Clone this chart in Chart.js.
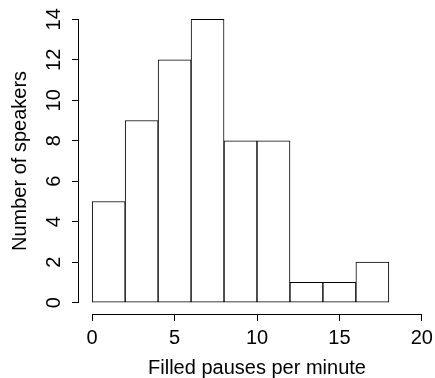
<!DOCTYPE html>
<html>
<head>
<meta charset="utf-8">
<script src="https://cdn.jsdelivr.net/npm/chart.js@4"></script>
<style>
  html, body { margin: 0; padding: 0; background: #fff; }
  #wrap { width: 435px; height: 378px; }
</style>
</head>
<body>
<div id="wrap"><canvas id="hist"></canvas></div>
<script>
// histogram bins (filled pauses per minute) and speaker counts
const binEdges = [0, 2, 4, 6, 8, 10, 12, 14, 16, 18];
const counts = [5, 9, 12, 14, 8, 8, 1, 1, 2];
const xTicks = [0, 5, 10, 15, 20];
const yTicks = [0, 2, 4, 6, 8, 10, 12, 14];

const FONT = { family: '"Liberation Sans", Arial, Helvetica, sans-serif', size: 20 };

const points = counts.map((c, i) => ({ x: (binEdges[i] + binEdges[i + 1]) / 2, y: c }));

// R-style axis: a line spanning only first..last tick
const axisLines = {
    id: 'axisLines',
    afterDraw(chart) {
        const ctx = chart.ctx;
        const xs = chart.scales.x, ys = chart.scales.y;
        ctx.save();
        ctx.strokeStyle = '#000';
        ctx.lineWidth = 1;
        ctx.beginPath();
        const yb = Math.round(xs.top) + 0.5;
        ctx.moveTo(xs.getPixelForValue(xTicks[0]), yb);
        ctx.lineTo(xs.getPixelForValue(xTicks[xTicks.length - 1]), yb);
        const xl = Math.round(ys.right) - 0.5;
        ctx.moveTo(xl, ys.getPixelForValue(yTicks[0]));
        ctx.lineTo(xl, ys.getPixelForValue(yTicks[yTicks.length - 1]));
        ctx.stroke();
        ctx.restore();
    }
};

// fixed axis boxes, no label overhang padding
function fixBox(size) {
    return s => {
        if (s.isHorizontal()) s.height = size; else s.width = size;
        s.paddingTop = s.paddingBottom = s.paddingLeft = s.paddingRight = 0;
    };
}

new Chart(document.getElementById('hist'), {
    type: 'bar',
    data: {
        datasets: [{
            data: points,
            backgroundColor: '#fff',
            borderColor: '#000',
            borderWidth: 1,
            borderSkipped: false,
            barPercentage: 1,
            categoryPercentage: 1,
        }]
    },
    options: {
        responsive: true,
        maintainAspectRatio: false,
        animation: false,
        layout: { padding: { top: 8, right: 0, left: 0, bottom: 0 } },
        plugins: { legend: { display: false }, tooltip: { enabled: false } },
        scales: {
            x: {
                type: 'linear',
                offset: false,
                min: -0.8,
                max: 20.8,
                afterBuildTicks: s => { s.ticks = xTicks.map(v => ({ value: v })); },
                afterFit: fixBox(64),
                grid: { offset: false, drawOnChartArea: false, drawTicks: true, tickLength: 7, color: '#000' },
                border: { display: false },
                ticks: { color: '#000', font: FONT, padding: 5, maxRotation: 0 },
                title: { display: true, text: 'Filled pauses per minute', color: '#000', font: FONT, padding: { top: 0, bottom: -2 } }
            },
            y: {
                min: -0.56,
                max: 14.56,
                afterBuildTicks: s => { s.ticks = yTicks.map(v => ({ value: v })); },
                afterFit: fixBox(79),
                grid: { drawOnChartArea: false, drawTicks: true, tickLength: 7, color: '#000' },
                border: { display: false },
                ticks: { color: '#000', font: FONT, padding: 6, minRotation: 90, maxRotation: 90, crossAlign: 'center' },
                title: { display: true, text: 'Number of speakers', color: '#000', font: FONT, padding: { top: 8, bottom: 0 } }
            }
        }
    },
    plugins: [axisLines]
});
</script>
</body>
</html>
